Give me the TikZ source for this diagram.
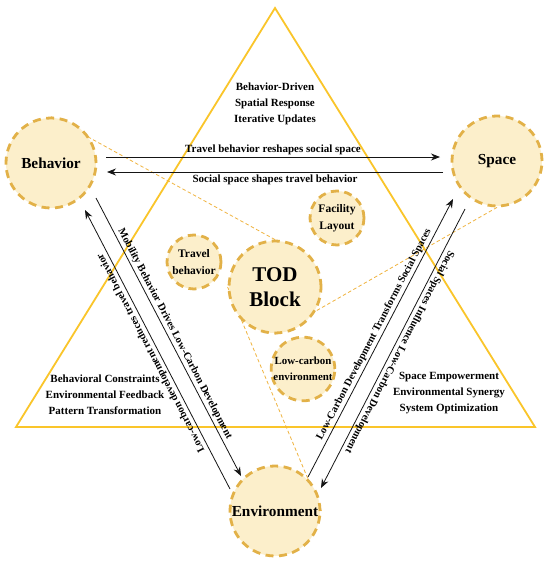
\documentclass[tikz,border=0pt]{standalone}
\usepackage{fontspec}
\setmainfont{Liberation Serif}
\usetikzlibrary{arrows.meta,calc,backgrounds}
\definecolor{tri}{HTML}{FAC52A}
\definecolor{cfill}{HTML}{FCEFCB}
\definecolor{cdraw}{HTML}{E2B148}
\definecolor{dline}{HTML}{F0B440}
\definecolor{arrc}{HTML}{151515}
\begin{document}
\begin{tikzpicture}[x=1pt,y=-1pt,
  bubble/.style={circle, fill=cfill, draw=cdraw, line width=2.8pt, dash pattern=on 8pt off 5.5pt, inner sep=0pt, align=center},
  bigfont/.style={font=\bfseries\fontsize{15.3}{18}\selectfont},
  smallfont/.style={font=\bfseries\fontsize{11.5}{16.5}\selectfont},
  link/.style={draw=arrc, line width=0.8pt, -{Stealth[length=9pt,width=7pt]}},
  lbl/.style={font=\bfseries\fontsize{11}{16}\selectfont, inner sep=2pt, text=black},
  slbl/.style={font=\bfseries\fontsize{10.5}{16}\selectfont, inner sep=2pt, text=black},
  guide/.style={draw=dline, line width=0.8pt, dash pattern=on 3.5pt off 2.5pt},
]
\useasboundingbox (0,0) rectangle (550,565);
% circles
\node[bubble, bigfont, minimum size=90pt] (Beh) at (51,163) {Behavior};
\node[bubble, bigfont, minimum size=90pt] (Spa) at (497,161) {Space};
\node[bubble, bigfont, minimum size=90pt] (Env) at (275,511) {Environment};
\node[bubble, minimum size=92pt, font=\bfseries\fontsize{21}{25}\selectfont] (TOD) at (275,287) {TOD\\Block};
\node[bubble, smallfont, minimum size=54pt] (Tra) at (194,262) {Travel\\behavior};
\node[bubble, smallfont, minimum size=54pt] (Fac) at (337,218) {Facility\\Layout};
\node[bubble, minimum size=57pt, font=\bfseries\fontsize{10.9}{16}\selectfont] (Low) at (303,369) {Low-carbon\\environment};
% background: white, triangle, guides
\begin{pgfonlayer}{background}
\fill[white] (0,0) rectangle (550,565);
\coordinate (apex) at (275,8);
\coordinate (bl) at (16,427);
\coordinate (br) at (535,427);
\draw[tri, line width=1.8pt, line join=miter] (apex) -- (br) -- (bl) -- cycle;
\draw[guide] (Beh.north) -- (TOD.north);
\draw[guide] (Spa.south) -- (TOD.south);
\draw[guide] (TOD.west) -- (Env.east);
\end{pgfonlayer}
% arrow end points, relative to the circles
\coordinate (a1s) at ($(Env)+(-45,-22)$);
\coordinate (a1e) at ($(Beh)+(34,47)$);
\coordinate (a2s) at ($(Beh)+(45,35)$);
\coordinate (a2e) at ($(Env)+(-34,-35)$);
\coordinate (a3s) at ($(Env)+(33,-34)$);
\coordinate (a3e) at ($(Spa)+(-44,38)$);
\coordinate (a4s) at ($(Spa)+(-32,48)$);
\coordinate (a4e) at ($(Env)+(46,-23)$);
\coordinate (t1s) at ($(Beh)+(55,-6)$);
\coordinate (t1e) at ($(Spa)+(-57,-4)$);
\coordinate (t2s) at ($(Spa)+(-54,11)$);
\coordinate (t2e) at ($(Beh)+(56,9)$);
% arrows
\draw[link] (t1s) -- node[lbl, above] {Travel behavior reshapes social space} (t1e);
\draw[link] (t2s) -- node[lbl, below] {Social space shapes travel behavior} (t2e);
\draw[link] (a1s) -- node[slbl, sloped, above, allow upside down] {Low-carbon development reduces travel behavior} (a1e);
\draw[link] (a2s) -- node[slbl, sloped, above] {Mobility Behavior Drives Low-Carbon Development} (a2e);
\draw[link] (a3s) -- node[slbl, sloped, above] {Low-Carbon Development Transforms Social Spaces} (a3e);
\draw[link] (a4s) -- node[slbl, sloped, above, allow upside down] {Social Spaces Influence Low-Carbon Development} (a4e);
% text blocks
\node[lbl, align=center] (topblk) at (275,104) {Behavior-Driven\\Spatial Response\\Iterative Updates};
\node[lbl, align=center] (lftblk) at (105,395) {Behavioral Constraints\\Environmental Feedback\\Pattern Transformation};
\node[lbl, align=center] (rgtblk) at (449,393.5) {Space Empowerment\\Environmental Synergy\\System Optimization};
\end{tikzpicture}
\end{document}
